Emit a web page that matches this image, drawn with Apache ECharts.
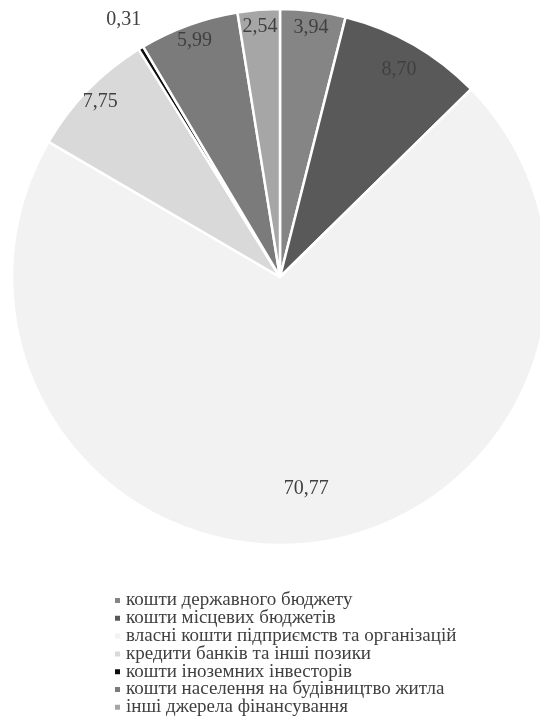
<!DOCTYPE html>
<html><head><meta charset="utf-8">
<script src="https://cdn.jsdelivr.net/npm/echarts@6/dist/echarts.min.js"></script>
<style>html,body{margin:0;padding:0;background:#fff}#c{width:540px;height:722px}</style>
</head><body><div id="c"></div>
<script>
var categories = ['кошти державного бюджету','кошти місцевих бюджетів','власні кошти підприємств та організацій','кредити банків та інші позики','кошти іноземних інвесторів','кошти населення на будівництво житла','інші джерела фінансування'];
var values = [3.94, 8.70, 70.77, 7.75, 0.31, 5.99, 2.54];
var colors = ['#858585','#595959','#f2f2f2','#d9d9d9','#0d0d0d','#7b7b7b','#a6a6a6'];
var labelRing = ['mid','mid2','inner','mid','outer','mid','mid'];

var fmt = function(v){ return v.toFixed(2).replace('.', ','); };
var center = [280, 277];
var labelFont = {fontFamily:'Liberation Serif', fontSize:20, color:'#404040'};

function ringSeries(ring, radius){
  return {
    type:'pie', center:center, radius:radius, startAngle:90, silent:true, animation:false,
    itemStyle:{color:'rgba(0,0,0,0)', borderWidth:0},
    labelLine:{show:false}, legendHoverLink:false,
    data: values.map(function(v,i){
      return {value:v, name:categories[i]+'#lbl',
        label:{show: labelRing[i]===ring, position:'inside', formatter: fmt(v),
          fontFamily:labelFont.fontFamily, fontSize:labelFont.fontSize, color:labelFont.color}};
    })
  };
}

var chart = echarts.init(document.getElementById('c'), null, {renderer:'canvas'});
chart.setOption({
  animation:false,
  legend:{
    data: categories, orient:'vertical', left:108, top:586, height:200,
    icon:'rect', itemWidth:7, itemHeight:7, itemGap:-1.2,
    textStyle:{fontFamily:'Liberation Serif', fontSize:19, color:'#404040', lineHeight:18}
  },
  series:[
    {
      type:'pie', center:center, radius:[0,268], startAngle:90, animation:false,
      itemStyle:{borderColor:'#fff', borderWidth:2.5},
      label:{show:false}, labelLine:{show:false},
      data: values.map(function(v,i){ return {value:v, name:categories[i], itemStyle:{color:colors[i]}}; })
    },
    ringSeries('mid', [236, 260]),
    ringSeries('mid2', [224, 248]),
    ringSeries('inner', [198, 222]),
    ringSeries('outer', [286, 310])
  ]
});
</script></body></html>
